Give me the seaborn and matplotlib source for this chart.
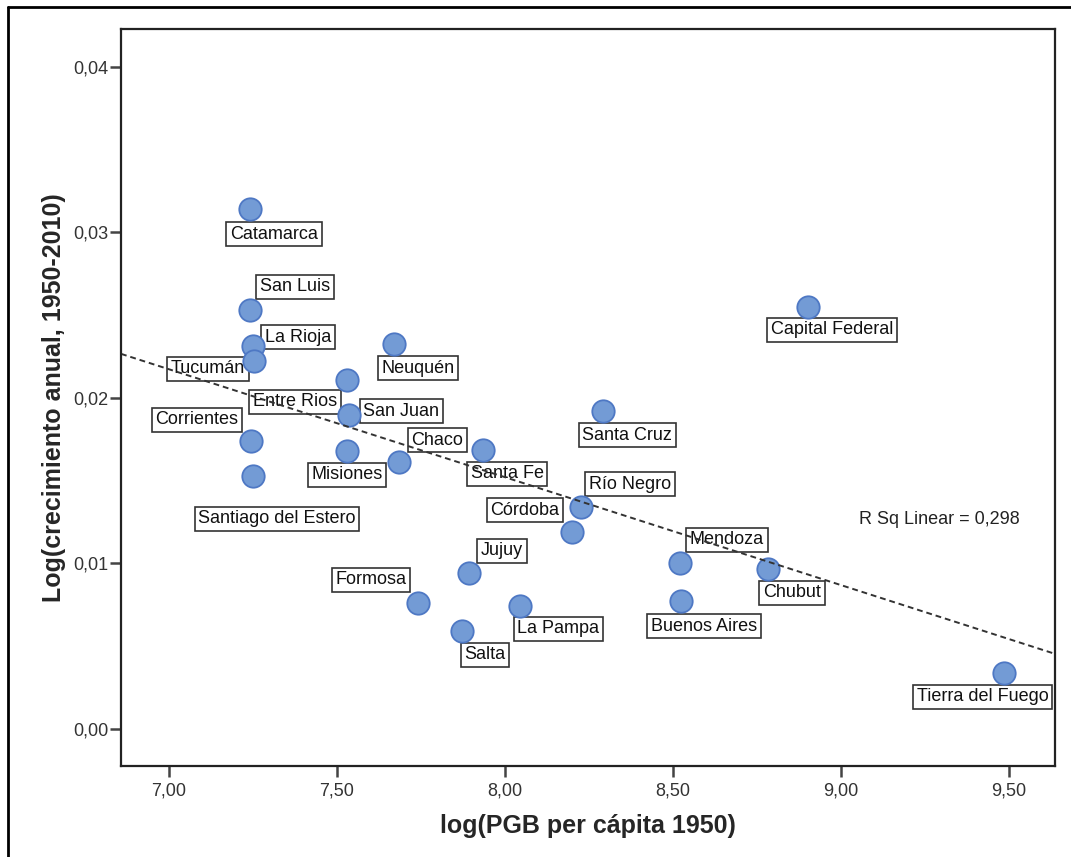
import numpy as np
import pandas as pd
import matplotlib
matplotlib.use("Agg")
import matplotlib.pyplot as plt
from matplotlib.lines import Line2D
from matplotlib.ticker import FuncFormatter
import seaborn as sns

# ── data ─────────────────────────────────────────────────────────────────────
provincias = ["Catamarca", "San Luis", "La Rioja", "Tucumán", "Neuquén",
              "Entre Rios", "San Juan", "Corrientes", "Santiago del Estero",
              "Misiones", "Chaco", "Santa Fe", "Santa Cruz", "Río Negro",
              "Córdoba", "Jujuy", "Formosa", "Salta", "La Pampa", "Mendoza",
              "Buenos Aires", "Chubut", "Capital Federal", "Tierra del Fuego"]
log_pgb = [7.241, 7.241, 7.250, 7.253, 7.670,
           7.530, 7.536, 7.244, 7.250,
           7.530, 7.685, 7.935, 8.292, 8.226,
           8.199, 7.893, 7.741, 7.872, 8.045, 8.521,
           8.524, 8.783, 8.902, 9.485]
log_crec = [0.03142, 0.02532, 0.02314, 0.02224, 0.02326,
            0.02109, 0.01897, 0.01740, 0.01529,
            0.01680, 0.01613, 0.01686, 0.01921, 0.01341,
            0.01190, 0.00943, 0.00761, 0.00592, 0.00743, 0.01003,
            0.00773, 0.00967, 0.02550, 0.00338]
# label box offsets from the point, in pixels (dx right, dy up)
label_dx = [24, 45, 45, -46, 24, -52, 52, -54, 24, 0, 38, 24, 24, 49,
            -47, 33, -47, 23, 38, 47, 23, 24, 24, -21]
label_dy = [-25, 23, 9, -8, -24, -22, 4, 21, -43, -24, 22, -24, -24, 23,
            22, 22, 23, -24, -23, 23, -25, -24, -23, -24]
r2_text = "R Sq Linear = 0,298"

df = pd.DataFrame({"x": log_pgb, "y": log_crec, "prov": provincias})

# ── plot ─────────────────────────────────────────────────────────────────────
sns.set_style("white")
plt.rcParams["font.family"] = ["Liberation Sans", "DejaVu Sans"]

fig = plt.figure(figsize=(10.71, 8.57), dpi=100)
ax = fig.add_axes([0.113, 0.1062, 0.872, 0.860])

# labels first, then points and fit line on top (as in the SPSS output)
for p, x, y, dx, dy in zip(provincias, log_pgb, log_crec, label_dx, label_dy):
    ax.annotate(p, (x, y), xytext=(dx, dy), textcoords="offset pixels",
                ha="center", va="center", fontsize=13, color="#111111",
                zorder=3,
                bbox=dict(boxstyle="square,pad=0.2", fc="white",
                          ec="#333333", lw=1.2))

sns.scatterplot(data=df, x="x", y="y", ax=ax, s=260, color="#739BD5",
                edgecolor="#4E78C4", linewidth=1.3, zorder=5)

ax.set_xlim(6.857, 9.637)
ax.set_ylim(-0.00224, 0.0423)

# linear fit across the whole axis
b1, b0 = np.polyfit(df["x"], df["y"], 1)
xs = np.array(ax.get_xlim())
ax.plot(xs, b0 + b1 * xs, ls=(0, (3, 2)), color="#333333", lw=1.4, zorder=6)

ax.text(0.876, 0.334, r2_text, transform=ax.transAxes, ha="center",
        va="center", fontsize=13, color="#222222")

ax.set_xticks([7.0, 7.5, 8.0, 8.5, 9.0, 9.5])
ax.set_yticks([0.0, 0.01, 0.02, 0.03, 0.04])
fmt = FuncFormatter(lambda v, pos: f"{v:.2f}".replace(".", ","))
ax.xaxis.set_major_formatter(fmt)
ax.yaxis.set_major_formatter(fmt)
ax.tick_params(axis="both", direction="out", length=8, width=1.8,
               color="#444444", labelsize=13, labelcolor="#333333")
ax.tick_params(axis="x", pad=4)
ax.tick_params(axis="y", pad=1)
ax.tick_params(bottom=True, left=True)

for sp in ax.spines.values():
    sp.set_color("#222222")
    sp.set_linewidth(1.6)
    sp.set_zorder(7)

ax.set_xlabel("log(PGB per cápita 1950)", fontsize=18, fontweight="bold",
              labelpad=10)
ax.set_ylabel("Log(crecimiento anual, 1950-2010)", fontsize=18,
              fontweight="bold", labelpad=5)

# outer frame (left and top edges visible)
fig.add_artist(Line2D([8 / 1071, 8 / 1071], [0, 1 - 7 / 857],
                      transform=fig.transFigure, color="black", lw=2))
fig.add_artist(Line2D([8 / 1071, 1], [1 - 7 / 857, 1 - 7 / 857],
                      transform=fig.transFigure, color="black", lw=2))

fig.savefig("out.png", dpi=100)
